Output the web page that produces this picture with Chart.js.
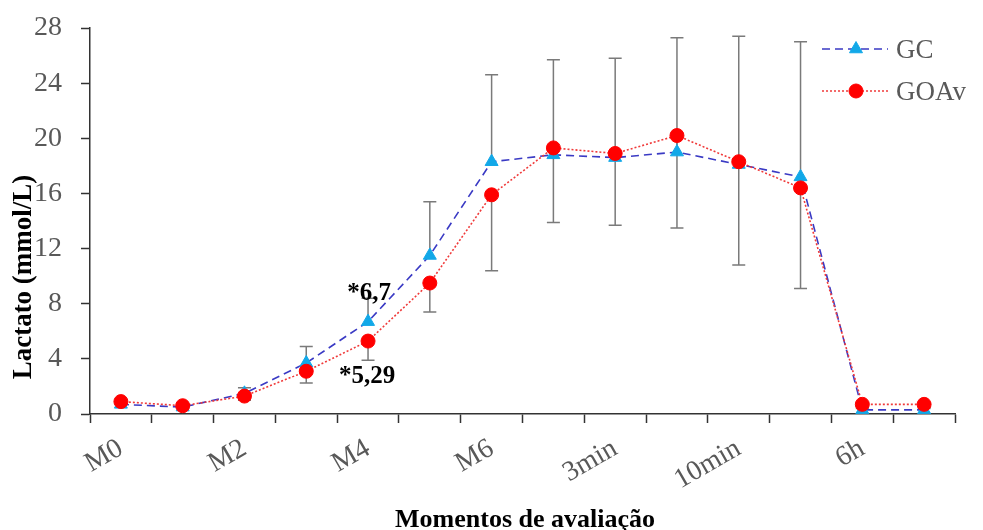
<!DOCTYPE html>
<html>
<head>
<meta charset="utf-8">
<script src="https://cdn.jsdelivr.net/npm/chart.js@4.4.0/dist/chart.umd.min.js"></script>
<style>
  html, body { margin: 0; padding: 0; background: #fff; }
  #wrap { width: 983px; height: 530px; }
</style>
</head>
<body>
<div id="wrap"><canvas id="lactato" width="983" height="530"></canvas></div>
<script>
// ============================================
// DATA
// ============================================
const categories = ['M0', '', 'M2', '', 'M4', '', 'M6', '', '3min', '', '10min', '', '6h', ''];
const gcValues   = [0.7, 0.5, 1.5, 3.7, 6.7, 11.5, 18.3, 18.8, 18.6, 19.0, 18.1, 17.2, 0.3, 0.3];
const gcSd       = [0.2, 0.2, 0.4, 1.2, 1.7, 3.9, 6.3, 6.9, 7.2, 8.3, 9.3, 9.8, 0.1, 0.1];
const goavValues = [0.9, 0.6, 1.3, 3.1, 5.29, 9.5, 15.9, 19.3, 18.9, 20.2, 18.3, 16.4, 0.7, 0.7];
const goavSd     = [0.2, 0.2, 0.3, 0.85, 1.4, 2.1, 5.5, 5.4, 5.2, 6.7, 7.5, 7.3, 0.2, 0.2];
const yTicks     = [0, 4, 8, 12, 16, 20, 24, 28];
const notes      = [{ index: 4, text: '*6,7', series: 'gc' }, { index: 4, text: '*5,29', series: 'goav' }];
const yTitle     = 'Lactato (mmol/L)';
const xTitle     = 'Momentos de avaliação';

const SERIF = "'Liberation Serif', 'Times New Roman', serif";
const GRAY_TEXT = '#595959';

// ============================================
// PLUGINS
// ============================================
// GC gets "plus" bars, GOAv gets "minus" bars (Excel style)
const errorBars = {
    id: 'errorBars',
    beforeDatasetsDraw(chart) {
        const { ctx, scales: { x, y } } = chart;
        ctx.save();
        ctx.strokeStyle = '#7a7a7a';
        ctx.lineWidth = 1.5;
        const cap = 6.5;
        categories.forEach((_, i) => {
            const px = x.getPixelForValue(i);
            const segs = [
                [gcValues[i], gcValues[i] + gcSd[i]],
                [goavValues[i], goavValues[i] - goavSd[i]]
            ];
            segs.forEach(([from, to]) => {
                const y0 = y.getPixelForValue(from);
                const y1 = y.getPixelForValue(to);
                ctx.beginPath();
                ctx.moveTo(px, y0);
                ctx.lineTo(px, y1);
                ctx.moveTo(px - cap, y1);
                ctx.lineTo(px + cap, y1);
                ctx.stroke();
            });
        });
        ctx.restore();
    }
};

const annotations = {
    id: 'annotations',
    afterDatasetsDraw(chart) {
        const { ctx, scales: { x, y } } = chart;
        ctx.save();
        ctx.font = 'bold 25px ' + SERIF;
        ctx.fillStyle = '#000';
        ctx.textAlign = 'center';
        ctx.textBaseline = 'alphabetic';
        notes.forEach(n => {
            const px = x.getPixelForValue(n.index);
            if (n.series === 'gc') {
                const py = y.getPixelForValue(gcValues[n.index]);
                ctx.fillText(n.text, px + 1, py - 22);
            } else {
                const py = y.getPixelForValue(goavValues[n.index]);
                ctx.fillText(n.text, px - 1, py + 42);
            }
        });
        ctx.restore();
    }
};

// axis titles placed by hand (the original's y title is not centred on the axis)
const axisTitles = {
    id: 'axisTitles',
    afterDraw(chart) {
        const { ctx } = chart;
        ctx.save();
        ctx.fillStyle = '#000';
        ctx.textAlign = 'center';
        ctx.textBaseline = 'alphabetic';
        ctx.font = 'bold 26px ' + SERIF;
        ctx.fillText(xTitle, 525, 527);
        ctx.translate(31, 277);
        ctx.rotate(-Math.PI / 2);
        ctx.font = 'bold 27px ' + SERIF;
        ctx.fillText(yTitle, 0, 0);
        ctx.restore();
    }
};

// legend: dashed line with marker in the middle, like the original
const lineLegend = {
    id: 'lineLegend',
    afterDraw(chart) {
        const { ctx } = chart;
        const rows = [
            { label: 'GC', y: 49, ds: chart.data.datasets[0] },
            { label: 'GOAv', y: 91, ds: chart.data.datasets[1] }
        ];
        ctx.save();
        rows.forEach(r => {
            ctx.beginPath();
            ctx.strokeStyle = r.ds.borderColor;
            ctx.lineWidth = r.ds.borderWidth;
            ctx.setLineDash(r.ds.borderDash);
            ctx.moveTo(822, r.y);
            ctx.lineTo(888, r.y);
            ctx.stroke();
            ctx.setLineDash([]);
            ctx.fillStyle = r.ds.pointBackgroundColor;
            ctx.strokeStyle = r.ds.pointBorderColor;
            ctx.lineWidth = 1;
            Chart.helpers.drawPoint(ctx, {
                pointStyle: r.ds.pointStyle,
                radius: r.ds.pointRadius,
                borderWidth: 1
            }, 856, r.y);
            ctx.font = '27px ' + SERIF;
            ctx.fillStyle = GRAY_TEXT;
            ctx.textAlign = 'left';
            ctx.textBaseline = 'middle';
            ctx.fillText(r.label, 896, r.y + 2);
        });
        ctx.restore();
    }
};

// ============================================
// CHART
// ============================================
new Chart(document.getElementById('lactato'), {
    type: 'line',
    data: {
        labels: categories,
        datasets: [{
            label: 'GC',
            data: gcValues,
            borderColor: '#3a3ac4',
            borderWidth: 1.6,
            borderDash: [8, 5],
            pointStyle: 'triangle',
            pointRadius: 7.5,
            pointBackgroundColor: '#12a8e8',
            pointBorderColor: '#12a8e8',
            pointBorderWidth: 1,
            tension: 0,
            order: 1
        }, {
            label: 'GOAv',
            data: goavValues,
            borderColor: '#f03a3a',
            borderWidth: 1.6,
            borderDash: [2, 2],
            pointStyle: 'circle',
            pointRadius: 7,
            pointBackgroundColor: '#ff0000',
            pointBorderColor: '#ff0000',
            pointBorderWidth: 1,
            tension: 0,
            order: 0
        }]
    },
    options: {
        responsive: false,
        devicePixelRatio: 1,
        animation: false,
        layout: { padding: { top: 28, right: 28, left: 0, bottom: 0 } },
        plugins: {
            legend: { display: false },
            tooltip: { enabled: false }
        },
        scales: {
            x: {
                type: 'category',
                offset: true,
                grid: {
                    offset: true,
                    drawOnChartArea: false,
                    drawTicks: true,
                    tickLength: 9,
                    tickWidth: 1.5,
                    tickColor: '#333'
                },
                border: { color: '#333', width: 1.5 },
                ticks: {
                    autoSkip: false,
                    minRotation: 30,
                    maxRotation: 30,
                    padding: 9,
                    color: GRAY_TEXT,
                    font: { family: SERIF, size: 28 }
                },
                afterFit(scale) {
                    scale.height = 116;
                    scale.paddingTop = 0;
                }
            },
            y: {
                min: 0,
                max: 28,
                afterBuildTicks(scale) { scale.ticks = yTicks.map(v => ({ value: v })); },
                grid: {
                    drawOnChartArea: false,
                    drawTicks: true,
                    tickLength: 9,
                    tickWidth: 1.5,
                    tickColor: '#333'
                },
                border: { color: '#333', width: 1.5 },
                ticks: {
                    padding: 19,
                    color: GRAY_TEXT,
                    font: { family: SERIF, size: 28, lineHeight: 1 }
                },
                afterFit(scale) {
                    scale.width = 90;
                    scale.paddingTop = 0;
                    scale.paddingBottom = 0;
                }
            }
        }
    },
    plugins: [errorBars, annotations, axisTitles, lineLegend]
});
</script>
</body>
</html>
